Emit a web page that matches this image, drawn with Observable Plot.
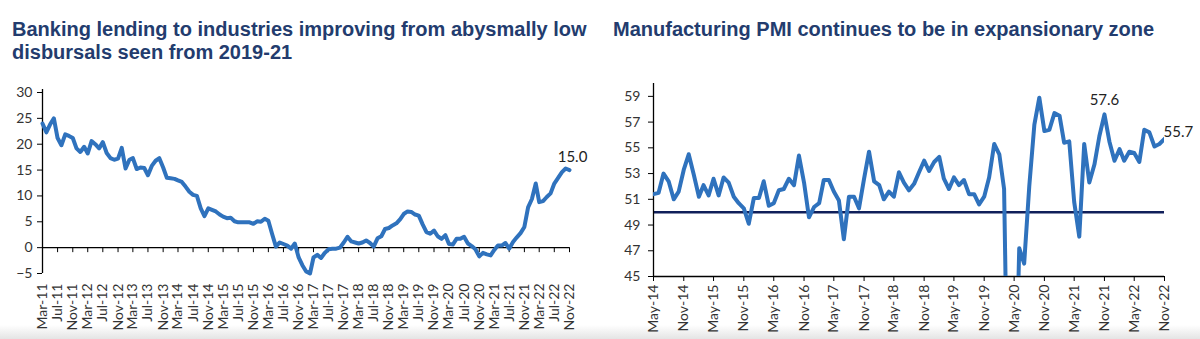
<!DOCTYPE html>
<html>
<head>
<meta charset="utf-8">
<script src="https://cdn.jsdelivr.net/npm/d3@7"></script>
<script src="https://cdn.jsdelivr.net/npm/@observablehq/plot@0.6"></script>
<style>
  body { margin: 0; width: 1200px; height: 339px; background: #fff; position: relative; overflow: hidden; font-family: "Liberation Sans", Arial, sans-serif; }
  .title { position: absolute; font-weight: bold; font-size: 20px; line-height: 23px; color: #233c6e; white-space: nowrap; }
  .band { position: absolute; left: 0; right: 0; bottom: 0; height: 14px; background: linear-gradient(#ffffff, #e4e4e4); }
  #c1 { position: absolute; left: 0; top: 80px; }
  #c2 { position: absolute; left: 600px; top: 80px; }
</style>
</head>
<body>
<div class="band"></div>
<div class="title" style="left:12px; top:18px;">Banking lending to industries improving from abysmally low<br>disbursals seen from 2019-21</div>
<div class="title" style="left:613px; top:18px;">Manufacturing PMI continues to be in expansionary zone</div>
<div id="c1"></div>
<div id="c2"></div>
<script>
// ---- Left chart: bank credit growth to industry (%, YoY), monthly Mar-11 .. Nov-22
const lendingStart = "2011-03-01";
const lendingGrowth = [
  24.0, 22.3, 23.8, 25.0, 21.2, 19.8, 21.9, 21.6, 21.2, 19.2,
  18.5, 19.5, 18.2, 20.6, 20.0, 19.2, 20.4, 18.3, 17.3, 17.0,
  17.2, 19.3, 15.3, 17.0, 17.3, 15.2, 15.5, 15.4, 14.0, 15.8,
  16.8, 17.3, 15.5, 13.5, 13.4, 13.3, 13.0, 12.7, 11.8, 10.8,
  10.2, 10.0, 7.6, 6.1, 7.6, 7.3, 7.0, 6.4, 6.0, 5.7,
  5.8, 5.1, 4.9, 4.9, 4.9, 4.9, 4.6, 5.1, 5.0, 5.6,
  5.2, 2.6, 0.2, 1.0, 0.7, 0.4, -0.2, 0.8, -1.9, -3.4,
  -4.6, -5.0, -1.9, -1.4, -2.0, -1.0, -0.3, -0.2, -0.2, 0.0,
  1.0, 2.1, 1.2, 1.0, 0.8, 1.0, 1.4, 0.9, 0.2, 1.8,
  2.2, 3.6, 3.8, 4.3, 4.7, 5.5, 6.5, 7.0, 6.9, 6.4,
  6.2, 4.5, 3.0, 2.7, 3.3, 2.2, 1.7, 2.4, 0.7, 0.6,
  1.7, 1.7, 2.1, 0.8, 0.3, -0.3, -1.7, -1.0, -1.3, -1.5,
  -0.5, 0.4, 0.4, 0.9, -0.2, 1.1, 2.0, 2.8, 4.0, 7.8,
  9.4, 12.4, 8.8, 9.0, 9.8, 10.5, 12.4, 13.5, 14.6, 15.3,
  15.0
];
const lendingYTicks = [-5, 0, 5, 10, 15, 20, 25, 30];
const lendingTickEvery = 4;

// ---- Right chart: Manufacturing PMI, monthly May-14 .. Nov-22
const pmiStart = "2014-05-01";
const pmiValues = [
  51.4, 51.5, 53.0, 52.4, 51.0, 51.6, 53.3, 54.5,
  52.9, 51.2, 52.1, 51.3, 52.6, 51.3, 52.7, 52.3, 51.2, 50.7, 50.3, 49.1,
  51.1, 51.1, 52.4, 50.5, 50.7, 51.7, 51.8, 52.6, 52.1, 54.4, 52.3, 49.6,
  50.4, 50.7, 52.5, 52.5, 51.6, 50.9, 47.9, 51.2, 51.2, 50.3, 52.6, 54.7,
  52.4, 52.1, 51.0, 51.6, 51.2, 53.1, 52.3, 51.7, 52.2, 53.1, 54.0, 53.2,
  53.9, 54.3, 52.6, 51.8, 52.7, 52.1, 52.5, 51.4, 51.4, 50.6, 51.2, 52.7,
  55.3, 54.5, 51.8, 27.4, 30.8, 47.2, 46.0, 52.0, 56.8, 58.9, 56.3, 56.4,
  57.7, 57.5, 55.4, 55.5, 50.8, 48.1, 55.3, 52.3, 53.7, 55.9, 57.6, 55.5,
  54.0, 54.9, 54.0, 54.7, 54.6, 53.9, 56.4, 56.2, 55.1, 55.3, 55.7
];
const pmiYTicks = [45, 47, 49, 51, 53, 55, 57, 59];
const pmiThreshold = [50];
const pmiLabelled = ["Nov-21", "Nov-22"];
const pmiTickEvery = 6;

const lineColor = "#2f72bd";
const fmt = d3.utcFormat("%b-%y");

const lendDates = lendingGrowth.map((_, i) => d3.utcMonth.offset(new Date(lendingStart), i));
const lend = lendingGrowth.map((v, i) => ({date: lendDates[i], value: v}));
const lendTicks = lendDates.filter((_, i) => i % lendingTickEvery === 0);

const pmiDates = pmiValues.map((_, i) => d3.utcMonth.offset(new Date(pmiStart), i));
const pmi = pmiValues.map((v, i) => ({date: pmiDates[i], value: v}));
const pmiTicks = pmiDates.filter((_, i) => i % pmiTickEvery === 0);

const axisStyle = {background: "transparent", fontFamily: "Lato, 'Open Sans', sans-serif", fontSize: "14px", color: "#333"};

// Left chart
{
  const W = 600, H = 259, mt = 12, mb = 66, ml = 42, mr = 31;
  const yDom = [-5, 30];
  const innerH = H - mt - mb;
  const zeroShift = -innerH * (0 - yDom[0]) / (yDom[1] - yDom[0]);
  const chart = Plot.plot({
    width: W, height: H, marginTop: mt, marginBottom: mb, marginLeft: ml, marginRight: mr,
    style: axisStyle,
    x: {type: "utc", domain: [lendDates[0], lendDates[lendDates.length - 1]], label: null},
    y: {domain: yDom, label: null},
    marks: [
      Plot.ruleY([0], {stroke: "#000", strokeWidth: 1.3}),
      Plot.ruleX([lendDates[0]], {stroke: "#000", strokeWidth: 1.3, insetTop: -3}),
      Plot.axisY({ticks: lendingYTicks, tickSize: 5, tickPadding: 5, label: null, stroke: "#000"}),
      Plot.axisX({ticks: lendTicks, tickSize: 5, tickFormat: () => "", dy: zeroShift, label: null, stroke: "#000"}),
      Plot.axisX({ticks: lendTicks, tickSize: 0, tickPadding: 10, tickRotate: -90, tickFormat: fmt, label: null}),
      Plot.line(lend, {x: "date", y: "value", stroke: lineColor, strokeWidth: 4, strokeLinejoin: "round"}),
      Plot.text(lend.slice(-1), {x: "date", y: "value", text: d => d.value.toFixed(1), dy: -13, dx: 3, fontSize: 15, fill: "#222"})
    ]
  });
  document.getElementById("c1").append(chart);
}

// Right chart
{
  const W = 600, H = 259, mt = 3, mb = 63, ml = 53, mr = 36;
  const chart = Plot.plot({
    width: W, height: H, marginTop: mt, marginBottom: mb, marginLeft: ml, marginRight: mr,
    style: axisStyle,
    x: {type: "utc", domain: [pmiDates[0], pmiDates[pmiDates.length - 1]], label: null},
    y: {domain: [45, 60], label: null},
    marks: [
      Plot.ruleY(pmiThreshold, {stroke: "#101f5a", strokeWidth: 2.5}),
      Plot.ruleY([45], {stroke: "#000", strokeWidth: 1.3}),
      Plot.ruleX([pmiDates[0]], {stroke: "#000", strokeWidth: 1.3}),
      Plot.axisY({ticks: pmiYTicks, tickSize: 5, tickPadding: 8, label: null, stroke: "#000"}),
      Plot.axisX({ticks: pmiTicks, tickSize: 5, tickPadding: 3, tickRotate: -90, tickFormat: fmt, label: null, stroke: "#000"}),
      Plot.line(pmi, {x: "date", y: "value", stroke: lineColor, strokeWidth: 4, strokeLinejoin: "round", clip: true}),
      Plot.text(pmi.filter(d => pmiLabelled.includes(fmt(d.date)) && d.date < pmiDates[pmiDates.length - 1]), {x: "date", y: "value", text: d => d.value.toFixed(1), dy: -14, fontSize: 15, fill: "#222"}),
      Plot.text(pmi.slice(-1), {x: "date", y: "value", text: d => d.value.toFixed(1), dy: -7, textAnchor: "start", dx: -1, fontSize: 15, fill: "#222"})
    ]
  });
  document.getElementById("c2").append(chart);
}
</script>
</body>
</html>
